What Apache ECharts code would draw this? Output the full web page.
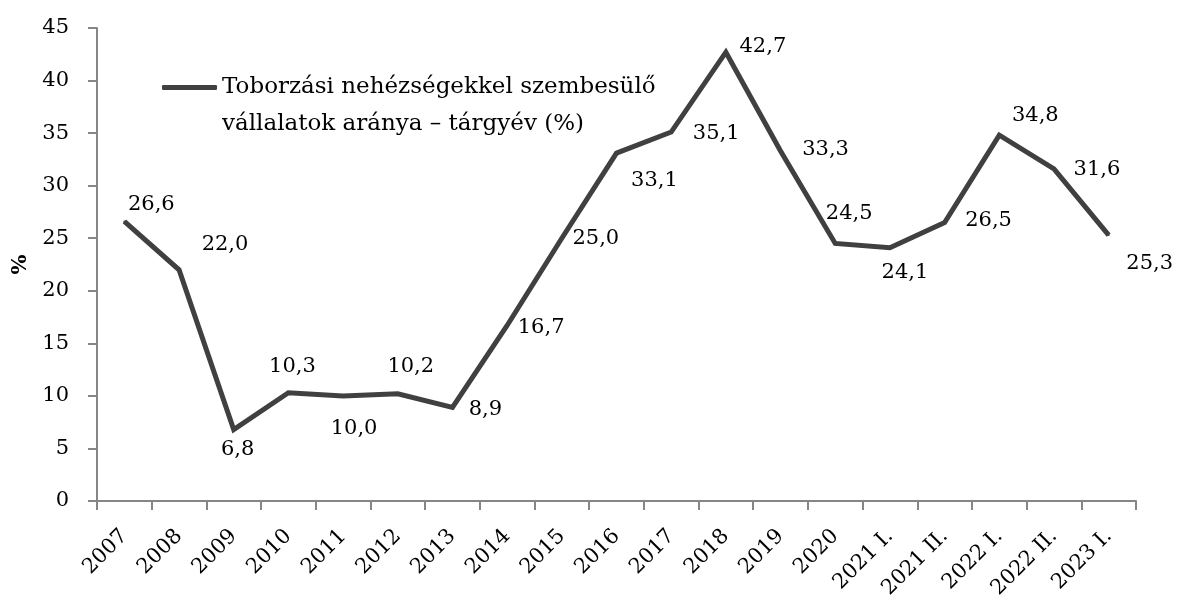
<!DOCTYPE html>
<html>
<head>
<meta charset="utf-8">
<script src="https://cdn.jsdelivr.net/npm/echarts@6/dist/echarts.min.js"></script>
<style>
  html, body { margin: 0; padding: 0; background: #fff; }
  #chart { width: 1180px; height: 597px; }
</style>
</head>
<body>
<div id="chart"></div>
<script>
// Periods on the horizontal axis
const categories = ['2007', '2008', '2009', '2010', '2011', '2012', '2013', '2014', '2015',
  '2016', '2017', '2018', '2019', '2020', '2021 I.', '2021 II.', '2022 I.', '2022 II.', '2023 I.'];

// Share of firms facing recruitment difficulties (%)
const shareValues = [26.6, 22.0, 6.8, 10.3, 10.0, 10.2, 8.9, 16.7, 25.0,
  33.1, 35.1, 42.7, 33.3, 24.5, 24.1, 26.5, 34.8, 31.6, 25.3];

const seriesName = 'Toborzási nehézségekkel szembesülő\nvállalatok aránya – tárgyév (%)';

// Value-label offsets (px) from each point, so labels stay clear of the line
const labelOffsets = [[27, -17], [46, -25], [4, 20], [4, -26], [11, 33], [13, -27], [33, 2],
  [34, 2], [34, 0], [38, 27], [45, 1], [37, -6], [45, -1], [14, -30], [15, 25], [44, -2],
  [36, -20], [43, 1], [41, 28]];

const FONT = 'DejaVu Serif';
const FONT_SIZE = 21;
const AXIS_COLOR = '#868686';
const LINE_COLOR = '#404040';

const fmt = v => v.toFixed(1).replace('.', ',');

const chart = echarts.init(document.getElementById('chart'));
chart.setOption({
  animation: false,
  textStyle: { fontFamily: FONT },
  grid: { left: 97, top: 28, right: 44, bottom: 96, outerBoundsMode: 'none', containLabel: false },
  legend: {
    left: 157,
    top: 27,
    icon: 'roundRect',
    itemWidth: 55,
    itemHeight: 5,
    data: [{ name: seriesName, itemStyle: { color: LINE_COLOR } }],
    formatter: name => '\n' + name,
    textStyle: { fontFamily: FONT, fontSize: 23, color: '#000', lineHeight: 37 }
  },
  xAxis: {
    type: 'category',
    data: categories,
    boundaryGap: true,
    axisLine: { lineStyle: { color: AXIS_COLOR, width: 2 } },
    axisTick: { show: true, alignWithLabel: false, length: 9, lineStyle: { color: AXIS_COLOR, width: 2 } },
    axisLabel: {
      interval: 0,
      rotate: 45,
      margin: 32,
      fontFamily: FONT,
      fontSize: FONT_SIZE,
      color: '#000'
    }
  },
  yAxis: {
    type: 'value',
    min: 0,
    max: 45,
    interval: 5,
    name: '%',
    nameLocation: 'middle',
    nameGap: 64,
    nameRotate: 90,
    nameTextStyle: { fontFamily: FONT, fontSize: FONT_SIZE, fontWeight: 'bold', color: '#000' },
    axisLine: { show: true, lineStyle: { color: AXIS_COLOR, width: 2 } },
    axisTick: { show: true, length: 9, lineStyle: { color: AXIS_COLOR, width: 2 } },
    splitLine: { show: false },
    axisLabel: { fontFamily: FONT, fontSize: FONT_SIZE, color: '#000', margin: 28 }
  },
  series: [{
    name: seriesName,
    type: 'line',
    data: shareValues.map((v, i) => ({
      value: v,
      label: { offset: labelOffsets[i] }
    })),
    symbol: 'circle',
    symbolSize: 2,
    itemStyle: { color: LINE_COLOR },
    lineStyle: { color: LINE_COLOR, width: 5, join: 'miter' },
    label: {
      show: true,
      position: 'inside',
      align: 'center',
      verticalAlign: 'middle',
      formatter: p => fmt(p.value),
      fontFamily: FONT,
      fontSize: FONT_SIZE,
      color: '#000'
    },
    emphasis: { disabled: true }
  }]
});
</script>
</body>
</html>
